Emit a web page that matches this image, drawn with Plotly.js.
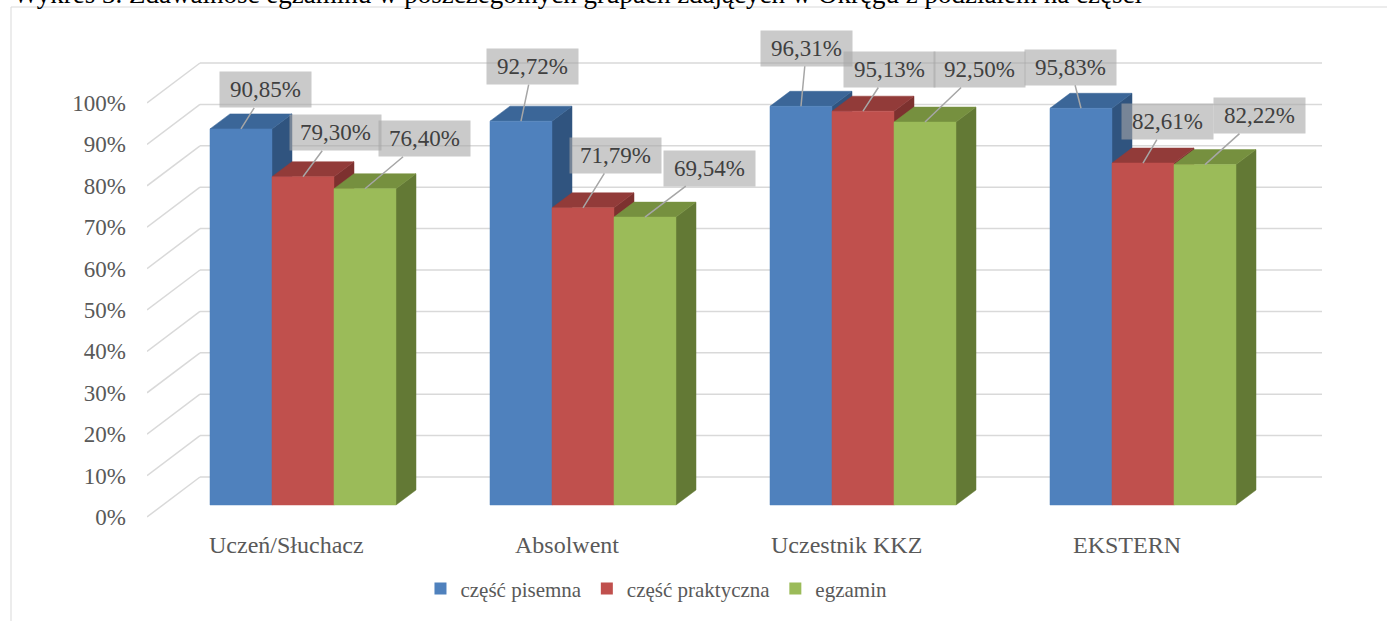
<!DOCTYPE html>
<html>
<head>
<meta charset="utf-8">
<script src="https://cdn.plot.ly/plotly-3.0.1.min.js"></script>
<style>html,body{margin:0;padding:0;background:#fff;}#chart{width:1387px;height:621px;}</style>
</head>
<body>
<div id="chart"></div>
<script>
// ---- data ----
const categories = ['Uczeń/Słuchacz', 'Absolwent', 'Uczestnik KKZ', 'EKSTERN'];
const seriesNames = ['część pisemna', 'część praktyczna', 'egzamin'];
const pisemna = [90.85, 92.72, 96.31, 95.83];
const praktyczna = [79.30, 71.79, 95.13, 82.61];
const egzamin = [76.40, 69.54, 92.50, 82.22];
const yTicks = [0, 10, 20, 30, 40, 50, 60, 70, 80, 90, 100];
const chartTitle = 'Wykres 3. Zdawalność egzaminu w poszczególnych grupach zdających w Okręgu z podziałem na części';

// ---- layout / style constants ----
const seriesValues = [pisemna, praktyczna, egzamin];
const frontColors = ['#4f81bd', '#c0504d', '#9bbb59'];
const topColors = ['#3b6698', '#923b39', '#76903f'];
const sideColors = ['#30547f', '#7d312f', '#637935'];
const PX_X = 280, PX_Y = 4.14;
const BAR_W = 62 / PX_X;
const DX = 20 / PX_X, DY = 15 / PX_Y;
const X_MIN = -0.5571, X_MAX = 3.6393;
const Y_MIN = -3.14, Y_MAX = 110.39;
const AXIS_SHIFT_X = 16 / PX_X, AXIS_SHIFT_Y = 12 / PX_Y;
const WALL_X = X_MIN + 53 / PX_X, WALL_Y = 28 / PX_Y;
// label box offsets (pixels) relative to bar top centre
const labelOffsets = [
  [[24.5, -39], [11.5, -54.5], [5.5, -58], [-10.5, -41]],
  [[32.5, -44], [32.5, -52.5], [27, -41.7], [24.5, -41.5]],
  [[59.5, -50], [64.5, -49], [55, -52.5], [54.5, -49]]
];
const serif = 'Liberation Serif';

function fmt(v) { return v.toFixed(2).replace('.', ',') + '%'; }

const traces = [];
const annotations = [];
seriesValues.forEach((vals, s) => {
  const side = {x: [], y: []}, top = {x: [], y: []}, front = {x: [], y: []};
  vals.forEach((v, i) => {
    const c = i + (s - 1) * BAR_W;
    const l = c - BAR_W / 2, r = c + BAR_W / 2;
    side.x.push(r, r, r + DX, r + DX, r, null);
    side.y.push(0, v, v + DY, DY, 0, null);
    top.x.push(l, r, r + DX, l + DX, l, null);
    top.y.push(v, v, v + DY, v + DY, v, null);
    front.x.push(l, r, r, l, l, null);
    front.y.push(0, 0, v, v, 0, null);
    annotations.push({
      x: c, y: v, xref: 'x', yref: 'y', text: fmt(v),
      showarrow: true, arrowhead: 0, arrowwidth: 1.5, arrowcolor: '#a6a6a6',
      ax: labelOffsets[s][i][0], ay: labelOffsets[s][i][1],
      bgcolor: 'rgba(166,166,166,0.6)', borderpad: 0, width: 91, height: 35,
      font: {family: serif, size: 23, color: '#404040'}
    });
  });
  [[side, sideColors[s]], [top, topColors[s]], [front, frontColors[s]]].forEach(([p, col]) => {
    traces.push({
      type: 'scatter', mode: 'lines', x: p.x, y: p.y, fill: 'toself',
      fillcolor: col, line: {color: col, width: 0.5}, hoverinfo: 'skip', showlegend: false
    });
  });
});
// legend entries
seriesNames.forEach((n, s) => {
  traces.push({type: 'bar', x: [null], y: [null], name: n, marker: {color: frontColors[s]}, showlegend: true});
});

categories.forEach((c, i) => {
  annotations.push({
    x: i - AXIS_SHIFT_X, y: 0, xref: 'x', yref: 'paper', yanchor: 'middle', yshift: -27,
    text: c, showarrow: false, font: {family: serif, size: 24, color: '#595959'}
  });
});
annotations.push({
  x: 0, y: 1, xref: 'paper', yref: 'paper', xanchor: 'left', yanchor: 'middle',
  xshift: -136, yshift: 54, text: chartTitle, showarrow: false,
  font: {family: serif, size: 27, color: '#000000'}
});

const shapes = [];
yTicks.forEach(t => {
  shapes.push({type: 'line', xref: 'x', yref: 'y', layer: 'below',
    x0: X_MIN, y0: t - AXIS_SHIFT_Y, x1: WALL_X, y1: t + WALL_Y,
    line: {color: '#d9d9d9', width: 1.5}});
  shapes.push({type: 'line', xref: 'x', yref: 'y', layer: 'below',
    x0: WALL_X, y0: t + WALL_Y, x1: X_MAX, y1: t + WALL_Y,
    line: {color: '#d9d9d9', width: 1.5}});
});
shapes.push({type: 'rect', xref: 'paper', yref: 'paper', layer: 'below',
  x0: (11 - 147) / 1175, x1: 1.07, y0: -0.3, y1: (518 - 7) / 470,
  line: {color: '#d9d9d9', width: 1}, fillcolor: 'rgba(0,0,0,0)'});

const layout = {
  width: 1387, height: 621,
  margin: {l: 147, r: 65, t: 48, b: 103},
  paper_bgcolor: '#ffffff', plot_bgcolor: 'rgba(0,0,0,0)',
  font: {family: serif},
  showlegend: true,
  legend: {orientation: 'h', x: 0.4336, xanchor: 'center', y: -0.151, yanchor: 'middle',
    font: {family: serif, size: 21, color: '#595959'}, bgcolor: 'rgba(0,0,0,0)'},
  xaxis: {range: [X_MIN, X_MAX], showticklabels: false, showgrid: false, zeroline: false, showline: false, fixedrange: true},
  yaxis: {range: [Y_MIN, Y_MAX], tickvals: yTicks, ticktext: yTicks.map(t => t + '%'),
    showgrid: false, zeroline: false, showline: false, ticks: '',
    ticklabelshift: 12, ticklabelstandoff: 20,
    tickfont: {family: serif, size: 23, color: '#595959'}, fixedrange: true},
  annotations: annotations,
  shapes: shapes
};

Plotly.newPlot('chart', traces, layout, {displayModeBar: false, staticPlot: true});
</script>
</body>
</html>
